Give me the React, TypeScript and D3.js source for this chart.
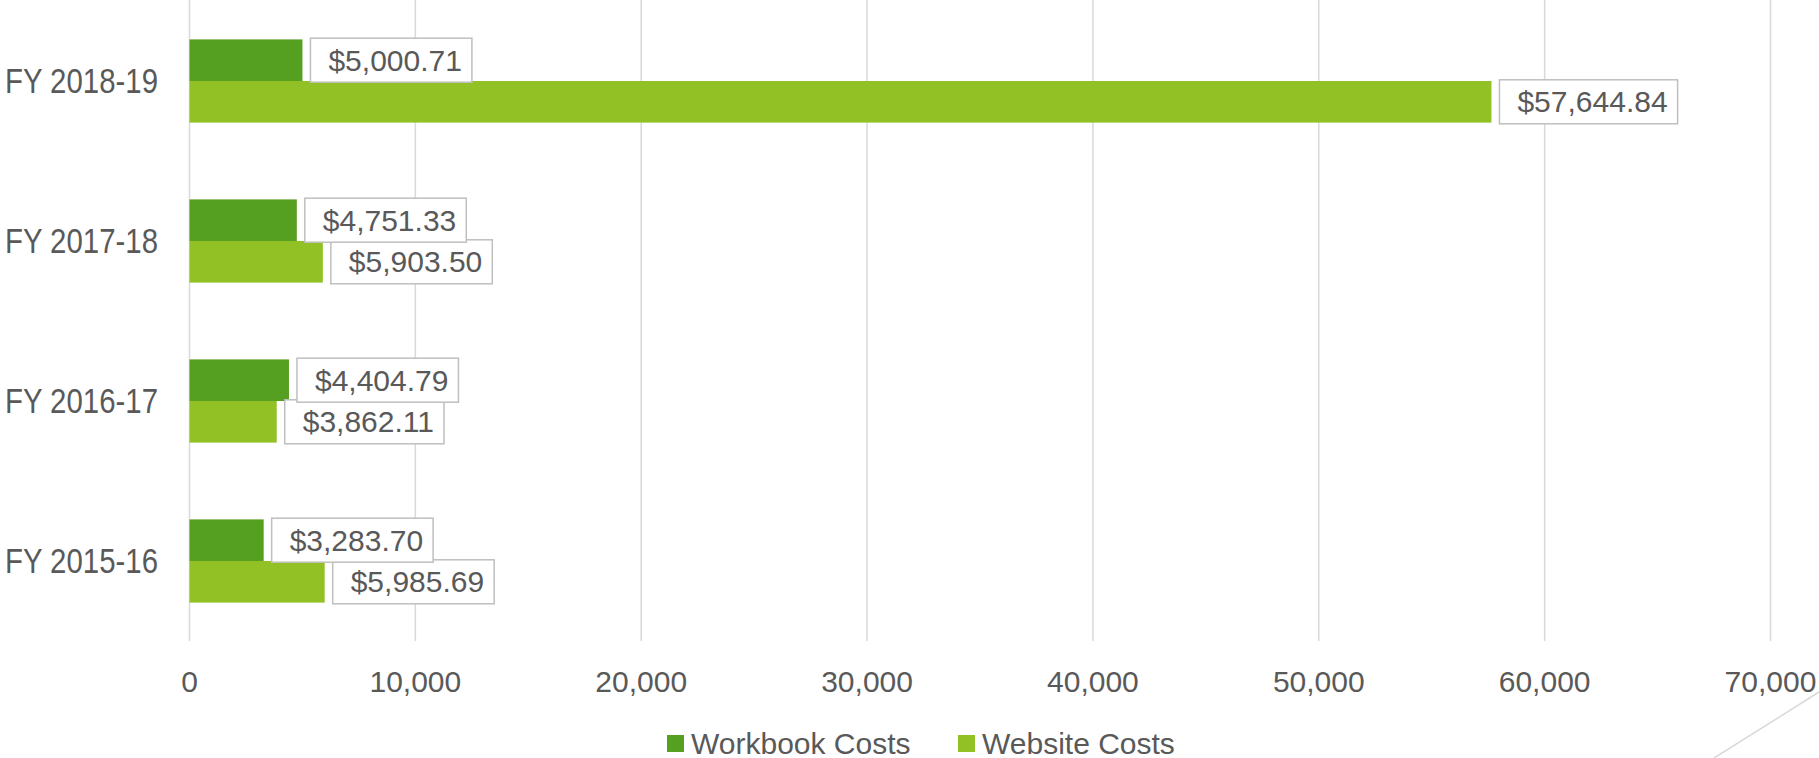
import React, { useEffect, useRef } from "react";
import * as d3 from "d3";

const categories = ["FY 2018-19", "FY 2017-18", "FY 2016-17", "FY 2015-16"];
const seriesNames = ["Workbook Costs", "Website Costs"];
const workbookCosts = [5000.71, 4751.33, 4404.79, 3283.7];
const websiteCosts = [57644.84, 5903.5, 3862.11, 5985.69];
const xTicks = [0, 10000, 20000, 30000, 40000, 50000, 60000, 70000];
const colors = ["#559F21", "#92C126"];

const W = 1819;
const H = 758;
const FONT = "'Liberation Sans', Arial, sans-serif";
const TEXT = "#595959";

export default function App() {
  const ref = useRef<SVGSVGElement | null>(null);

  useEffect(() => {
    const svg = d3.select(ref.current);
    svg.selectAll("*").remove();

    const x = d3.scaleLinear().domain([0, 70000]).range([189.5, 1770.5]);
    const y = d3.scaleBand<string>().domain(categories).range([1, 641]).paddingInner(0.48).paddingOuter(0.24);
    const ys = d3.scaleBand<string>().domain(seriesNames).range([0, y.bandwidth()]);

    // gridlines
    svg.append("g")
      .selectAll("line")
      .data(xTicks)
      .join("line")
      .attr("x1", (d) => x(d))
      .attr("x2", (d) => x(d))
      .attr("y1", 0)
      .attr("y2", 641)
      .attr("stroke", "#d9d9d9")
      .attr("stroke-width", 1.5);

    // tick labels
    svg.append("g")
      .selectAll("text")
      .data(xTicks)
      .join("text")
      .attr("x", (d) => x(d))
      .attr("y", 681)
      .attr("text-anchor", "middle")
      .attr("dominant-baseline", "central")
      .attr("font-family", FONT)
      .attr("font-size", 30)
      .attr("fill", TEXT)
      .text((d) => d3.format(",")(d));

    // category labels (taller, narrower)
    svg.append("g")
      .selectAll("g")
      .data(categories)
      .join("g")
      .attr("transform", (d) => `translate(158,${(y(d) as number) + y.bandwidth() / 2}) scale(0.84,1)`)
      .append("text")
      .attr("text-anchor", "end")
      .attr("dominant-baseline", "central")
      .attr("font-family", FONT)
      .attr("font-size", 35)
      .attr("fill", TEXT)
      .text((d) => d);

    const series = [workbookCosts, websiteCosts];

    // bars
    series.forEach((vals, si) => {
      svg.append("g")
        .selectAll("rect")
        .data(vals)
        .join("rect")
        .attr("x", x(0))
        .attr("y", (_d, i) => (y(categories[i]) as number) + (ys(seriesNames[si]) as number))
        .attr("width", (d) => x(d) - x(0))
        .attr("height", ys.bandwidth())
        .attr("fill", colors[si]);
    });

    // data labels (website first, workbook on top)
    const fmt = (v: number) => "$" + d3.format(",.2f")(v);
    [1, 0].forEach((si) => {
      const vals = series[si];
      vals.forEach((v, i) => {
        const cy = (y(categories[i]) as number) + (ys(seriesNames[si]) as number) + ys.bandwidth() / 2;
        const left = x(v) + 8;
        const g = svg.append("g");
        const rect = g.append("rect");
        const t = g.append("text")
          .attr("x", left + 18)
          .attr("y", cy)
          .attr("dominant-baseline", "central")
          .attr("font-family", FONT)
          .attr("font-size", 30)
          .attr("fill", TEXT)
          .text(fmt(v));
        const tw = (t.node() as SVGTextElement).getComputedTextLength();
        rect
          .attr("x", left)
          .attr("y", cy - 22)
          .attr("width", tw + 28)
          .attr("height", 44)
          .attr("fill", "#ffffff")
          .attr("stroke", "#bfbfbf")
          .attr("stroke-width", 1.5);
      });
    });

    // legend
    const legendItems = [
      { name: seriesNames[0], color: colors[0], mx: 667, tx: 691 },
      { name: seriesNames[1], color: colors[1], mx: 958, tx: 982 },
    ];
    const lg = svg.append("g");
    legendItems.forEach((it) => {
      lg.append("rect")
        .attr("x", it.mx)
        .attr("y", 735)
        .attr("width", 17)
        .attr("height", 17)
        .attr("fill", it.color);
      lg.append("text")
        .attr("x", it.tx)
        .attr("y", 743)
        .attr("dominant-baseline", "central")
        .attr("font-family", FONT)
        .attr("font-size", 30)
        .attr("fill", TEXT)
        .text(it.name);
    });

    // decorative corner line
    svg.append("line")
      .attr("x1", 1819)
      .attr("y1", 692)
      .attr("x2", 1714)
      .attr("y2", 758)
      .attr("stroke", "#d9d9d9")
      .attr("stroke-width", 1.5);
  }, []);

  return (
    <svg
      ref={ref}
      width={W}
      height={H}
      style={{ position: "absolute", left: 0, top: 0, background: "#ffffff" }}
    />
  );
}
